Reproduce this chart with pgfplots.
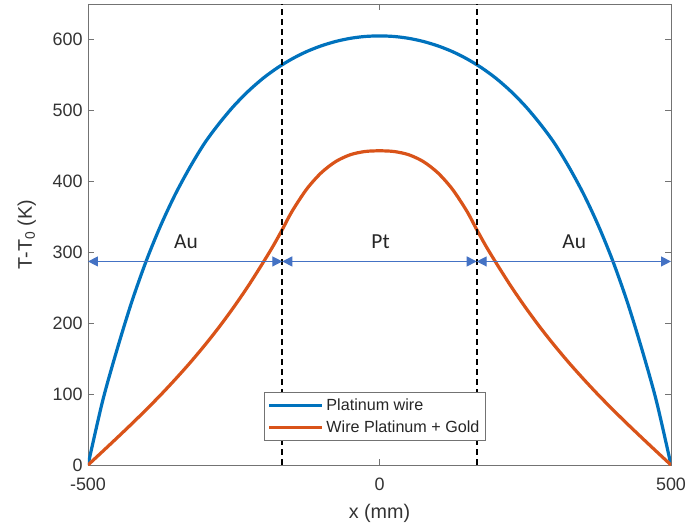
\documentclass[border=0pt]{standalone}
\usepackage{pgfplots}
\pgfplotsset{compat=1.18}
\usepackage{fontspec}
\setmainfont{Liberation Sans}
\newfontfamily\calibri{Carlito}
\usetikzlibrary{arrows.meta}
\definecolor{mblue}{rgb}{0,0.447,0.741}
\definecolor{morange}{rgb}{0.85,0.325,0.098}
\definecolor{arrblue}{HTML}{4472C4}
\begin{document}
\begin{tikzpicture}
\begin{axis}[
  name=ax,
  width=583bp, height=461bp, scale only axis,
  xmin=-500, xmax=500, ymin=0, ymax=650,
  xtick={-500,0,500}, ytick={0,100,200,300,400,500,600},
  tick align=inside,
  major tick length=6bp,
  axis line style={draw=black!55, line width=0.8bp},
  every tick/.style={draw=black!55, line width=0.8bp},
  ticklabel style={font=\fontsize{18}{20}\selectfont, text=black!80},
  /pgf/number format/assume math mode=true,
  xticklabel style={yshift=-9bp},
  yticklabel style={xshift=-2bp},
  xlabel={x (mm)},
  ylabel={T-T\textsubscript{0} (K)},
  label style={font=\fontsize{19.8}{22}\selectfont, text=black!80},
  xlabel style={at={(axis description cs:0.5,-0.104)}, anchor=center},
  ylabel style={at={(axis description cs:-0.105,0.5)}, anchor=center},
  legend style={at={(rel axis cs:0.492,0.052)}, anchor=south,
    draw=black!55, line width=0.8bp, fill=white,
    font=\fontsize{16.2}{19}\selectfont, text=black!85,
    inner xsep=3bp, inner ysep=2bp,
    nodes={text height=12bp, text depth=3bp, inner ysep=3.5bp, inner xsep=2.5bp}},
  legend cell align=left,
  legend image code/.code={\draw[#1] (0bp,0bp) -- (53bp,0bp);},
]
\addplot[mblue, line width=3.2bp, smooth] coordinates {
(-500,0) (-475,90) (-450,163.3) (-425,229.9) (-400,288.0) (-375,338.3)
(-350,382.1) (-325,420.1) (-300,453.8) (-275,481.6) (-250,506.1)
(-225,527.1) (-200,545.1) (-175,560.1) (-150,572.6) (-125,582.9)
(-100,591.0) (-75,597.2) (-50,601.6) (-25,604.2) (0,605)
(25,604.2) (50,601.6) (75,597.2) (100,591.0) (125,582.9) (150,572.6)
(175,560.1) (200,545.1) (225,527.1) (250,506.1) (275,481.6) (300,453.8)
(325,420.1) (350,382.1) (375,338.3) (400,288.0)
(425,229.9) (450,163.3) (475,90) (500,0)};
\addlegendentry{Platinum wire}
\addplot[morange, line width=3.2bp, smooth] coordinates {
(-500,0) (-475,19.1) (-450,38.4) (-425,58.0) (-400,78.2) (-375,99.1)
(-350,121.1) (-325,144.1) (-300,168.6) (-275,194.6) (-250,222.6)
(-225,252.6) (-200,285.0) (-183.3,307.6) (-166.7,332) (-150,357.7)
(-125,388.9) (-100,412.0) (-75,427.9) (-50,437.5) (-25,442.0) (0,443)
(25,442.0) (50,437.5) (75,427.9) (100,412.0) (125,388.9) (150,357.7)
(166.7,332) (183.3,307.6) (200,285.0) (225,252.6) (250,222.6) (275,194.6)
(300,168.6) (325,144.1) (350,121.1) (375,99.1) (400,78.2) (425,58.0)
(450,38.4) (475,19.1) (500,0)};
\addlegendentry{Wire Platinum + Gold}
% region boundaries
\addplot[black, line width=1.8bp, dash pattern=on 6bp off 4bp, forget plot] coordinates {(-166.7,0) (-166.7,650)};
\addplot[black, line width=1.8bp, dash pattern=on 6bp off 4bp, forget plot] coordinates {(166.7,0) (166.7,650)};
% arrows
\addplot[arrblue, line width=1.3bp, {Triangle[length=10bp,width=10bp]}-{Triangle[length=10bp,width=10bp]}, forget plot] coordinates {(-500,287) (-166.7,287)};
\addplot[arrblue, line width=1.3bp, {Triangle[length=10bp,width=10bp]}-{Triangle[length=10bp,width=10bp]}, forget plot] coordinates {(-166.7,287) (166.7,287)};
\addplot[arrblue, line width=1.3bp, {Triangle[length=10bp,width=10bp]}-{Triangle[length=10bp,width=10bp]}, forget plot] coordinates {(166.7,287) (500,287)};
\node[font=\calibri\fontsize{21.5}{24}\selectfont, text=black!85] at (axis cs:-332,315) {Au};
\node[font=\calibri\fontsize{21.5}{24}\selectfont, text=black!85] at (axis cs:2,315) {Pt};
\node[font=\calibri\fontsize{21.5}{24}\selectfont, text=black!85] at (axis cs:334,315) {Au};
\end{axis}
\pgfresetboundingbox
\path ([shift={(-88bp,-64bp)}]ax.south west) rectangle ([shift={(15bp,4bp)}]ax.north east);
\end{tikzpicture}
\end{document}
